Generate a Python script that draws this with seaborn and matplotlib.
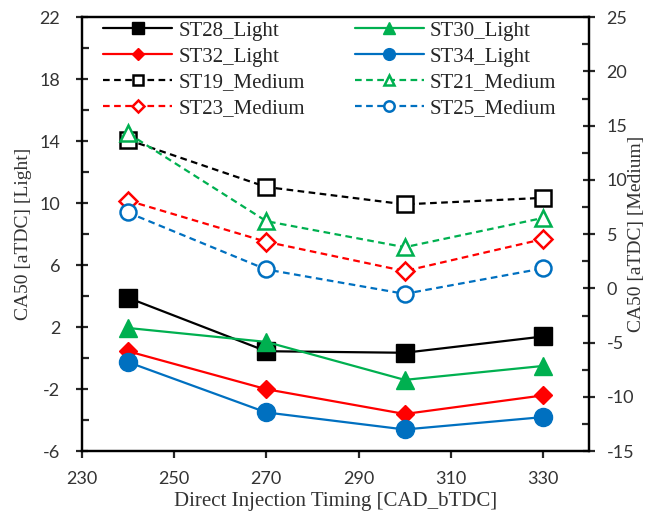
import numpy as np
import pandas as pd
import matplotlib
matplotlib.use("Agg")
import matplotlib.pyplot as plt
import seaborn as sns
from matplotlib.ticker import MultipleLocator

# Data
timing = [240, 270, 300, 330]

# Light fuel, left axis
st28_light = [3.9, 0.45, 0.35, 1.4]
st30_light = [1.95, 1.05, -1.4, -0.5]
st32_light = [0.45, -2.0, -3.6, -2.4]
st34_light = [-0.25, -3.5, -4.6, -3.8]

# Medium fuel, right axis
st19_medium = [13.7, 9.35, 7.75, 8.35]
st21_medium = [14.3, 6.2, 3.8, 6.5]
st23_medium = [8.1, 4.3, 1.6, 4.55]
st25_medium = [7.0, 1.75, -0.5, 1.85]

left_ticks = [-6, -2, 2, 6, 10, 14, 18, 22]
right_ticks = [-15, -10, -5, 0, 5, 10, 15, 20, 25]
x_ticks = [230, 250, 270, 290, 310, 330]

black = "#000000"
green = "#00B050"
red = "#FF0000"
blue = "#0070C0"

sns.set_style("ticks")
plt.rcParams["font.family"] = ["Liberation Serif", "DejaVu Serif"]
plt.rcParams["axes.unicode_minus"] = False

fig = plt.figure(figsize=(6.54, 5.21), dpi=100)
ax = fig.add_axes([0.125, 0.134, 0.776, 0.833])
ax2 = ax.twinx()

light = [("ST28_Light", st28_light, black, "s", 13),
         ("ST30_Light", st30_light, green, "^", 12.5),
         ("ST32_Light", st32_light, red, "D", 9),
         ("ST34_Light", st34_light, blue, "o", 13)]
medium = [("ST19_Medium", st19_medium, black, "s", 11.5),
          ("ST21_Medium", st21_medium, green, "^", 11.5),
          ("ST23_Medium", st23_medium, red, "D", 9),
          ("ST25_Medium", st25_medium, blue, "o", 11.5)]

handles = {}
for name, vals, col, mk, ms in light:
    sns.lineplot(x=timing, y=vals, ax=ax, color=col, marker=mk, markersize=ms,
                 markeredgecolor=col, markerfacecolor=col, markeredgewidth=1,
                 linewidth=1.6, label=name)
    handles[name] = ax.lines[-1]

for name, vals, col, mk, ms in medium:
    sns.lineplot(x=timing, y=vals, ax=ax2, color=col, marker=mk, markersize=ms,
                 markeredgecolor=col, markerfacecolor="white", markeredgewidth=1.8,
                 linewidth=1.6, label=name)
    line = ax2.lines[-1]
    line.set_dashes((3, 2))
    handles[name] = line

for a in (ax, ax2):
    if a.get_legend() is not None:
        a.get_legend().remove()

ax.set_xlim(230, 340)
ax.set_ylim(-6, 22)
ax2.set_ylim(-15, 25)
ax.set_xticks(x_ticks)
ax.set_yticks(left_ticks)
ax.yaxis.set_minor_locator(MultipleLocator(2))
ax2.set_yticks(right_ticks)
ax2.yaxis.set_minor_locator(MultipleLocator(2.5))

for a in (ax, ax2):
    for s in a.spines.values():
        s.set_visible(True)
        s.set_linewidth(1.6)
        s.set_color("black")

ax.tick_params(axis="x", direction="out", length=5, width=1.6, labelsize=13, pad=9)
ax.tick_params(axis="y", which="major", direction="inout", length=9, width=1.6,
               labelsize=13, pad=11)
ax.tick_params(axis="y", which="minor", direction="in", length=5, width=1.6)
ax2.tick_params(axis="y", which="major", direction="inout", length=9, width=1.6,
                labelsize=13, pad=8)
ax2.tick_params(axis="y", which="minor", direction="in", length=5, width=1.6)
for lab in ax.get_xticklabels() + ax.get_yticklabels() + ax2.get_yticklabels():
    lab.set_family(["Lato", "DejaVu Sans"])
    lab.set_color("#333333")

ax.set_xlabel("Direct Injection Timing [CAD_bTDC]", fontsize=15, color="#333333", labelpad=4)
ax.set_ylabel("CA50 [aTDC] [Light]", fontsize=14, color="#333333")
ax.yaxis.set_label_coords(-0.099, 0.5)
ax2.set_ylabel("CA50 [aTDC] [Medium]", fontsize=14, color="#333333", rotation=90)
ax2.yaxis.set_label_coords(1.077, 0.5)

order = ["ST28_Light", "ST32_Light", "ST19_Medium", "ST23_Medium",
         "ST30_Light", "ST34_Light", "ST21_Medium", "ST25_Medium"]
leg = ax2.legend([handles[n] for n in order], order, ncol=2, loc="upper left",
                 bbox_to_anchor=(0.026, 1.01), frameon=False, fontsize=15,
                 handlelength=3.3, handletextpad=0.3, columnspacing=2.4,
                 labelspacing=0.3, markerscale=0.65, borderaxespad=0)

fig.savefig("out.png", dpi=100)
